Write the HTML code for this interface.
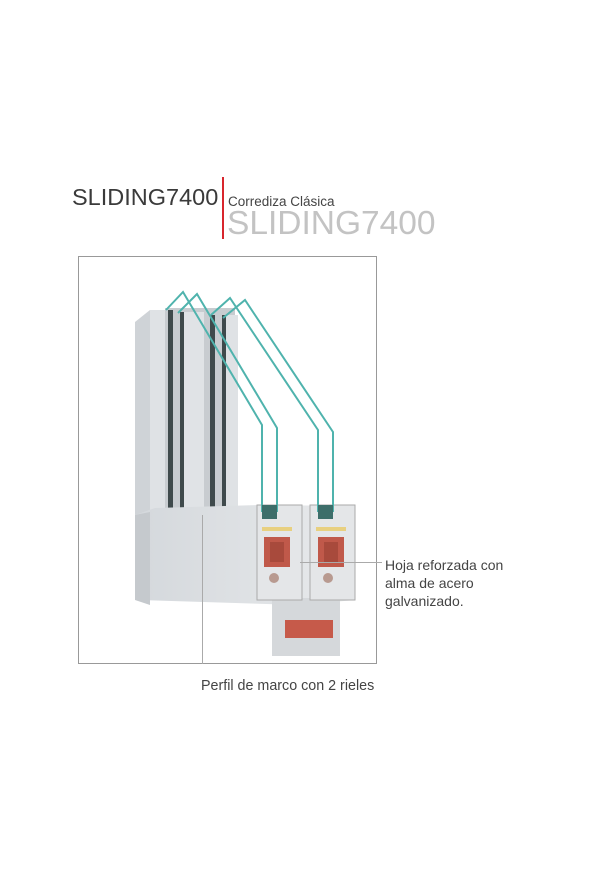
<!DOCTYPE html>
<html><head><meta charset="utf-8"><style>
body{margin:0;background:#fff;width:600px;height:880px;position:relative;font-family:"Liberation Sans",sans-serif;overflow:hidden}
.t{position:absolute;white-space:nowrap}
</style></head><body>
<div class="t" style="left:72px;top:184px;font-size:23.5px;color:#3a3a3a">SLIDING7400</div>
<div style="position:absolute;left:222px;top:177px;width:2px;height:62px;background:#d8262d"></div>
<div class="t" style="left:228px;top:194px;font-size:13.5px;color:#444">Corrediza Clásica</div>
<div class="t" style="left:227px;top:205px;font-size:33.5px;color:#c3c3c3">SLIDING7400</div>
<svg style="position:absolute;left:0;top:0" width="600" height="880">
<rect x="78.5" y="256.5" width="298" height="407" fill="none" stroke="#999" stroke-width="1"/>
<defs><linearGradient id="g" x1="0" x2="1"><stop offset="0" stop-color="#d4d8dc"/><stop offset="1" stop-color="#e8eaec"/></linearGradient></defs>
<polygon points="135,322 150,310 165,310 165,508 135,515" fill="#cfd3d7"/>
<rect x="150" y="310" width="15" height="200" fill="#dfe2e5"/>
<rect x="165" y="308" width="70" height="200" fill="#c8ccd0"/>
<rect x="168" y="310" width="5" height="198" fill="#3f4a4c"/>
<rect x="180" y="312" width="4" height="196" fill="#3f4a4c"/>
<rect x="184" y="312" width="20" height="196" fill="#e0e3e6"/>
<rect x="210" y="315" width="5" height="193" fill="#3f4a4c"/>
<rect x="222" y="315" width="4" height="193" fill="#3f4a4c"/>
<rect x="226" y="315" width="12" height="193" fill="#dfe2e5"/>
<polygon points="135,515 155,508 260,505 355,506 355,600 300,605 140,600" fill="url(#g)"/>
<polygon points="135,515 135,600 150,605 150,512" fill="#c5c9cd"/>
<rect x="272" y="598" width="68" height="58" fill="#d5d8db"/>
<rect x="285" y="620" width="48" height="18" fill="#c65a4a"/>
<rect x="257" y="505" width="45" height="95" fill="#e4e6e8" stroke="#aaa" stroke-width="1"/>
<rect x="310" y="505" width="45" height="95" fill="#e4e6e8" stroke="#aaa" stroke-width="1"/>
<rect x="264" y="537" width="26" height="30" fill="#c0594a"/>
<rect x="270" y="542" width="14" height="20" fill="#a84a3c"/>
<rect x="318" y="537" width="26" height="30" fill="#c0594a"/>
<rect x="324" y="542" width="14" height="20" fill="#a84a3c"/>
<circle cx="274" cy="578" r="5" fill="#b89a90"/>
<circle cx="328" cy="578" r="5" fill="#b89a90"/>
<rect x="262" y="527" width="30" height="4" fill="#e8d080"/>
<rect x="316" y="527" width="30" height="4" fill="#e8d080"/>
<g fill="none" stroke="#4fb3ad" stroke-width="2">
<polyline points="166,310 183,292 262,425 262,512"/>
<polyline points="178,313 197,294 277,428 277,512"/>
<polyline points="211,315 230,298 318,430 318,512"/>
<polyline points="223,318 245,300 333,432 333,512"/>
</g>
<g fill="#3d6e6a"><rect x="262" y="505" width="15" height="14"/><rect x="318" y="505" width="15" height="14"/></g>
<line x1="202.5" y1="515" x2="202.5" y2="664" stroke="#aaa"/>
<line x1="300" y1="562.5" x2="382" y2="562.5" stroke="#aaa"/>
</svg>
<div class="t" style="left:385px;top:556px;font-size:14px;color:#444;line-height:18px">Hoja reforzada con<br>alma de acero<br>galvanizado.</div>
<div class="t" style="left:201px;top:678px;font-size:14.3px;color:#444">Perfil de marco con 2 rieles</div>
</body></html>
